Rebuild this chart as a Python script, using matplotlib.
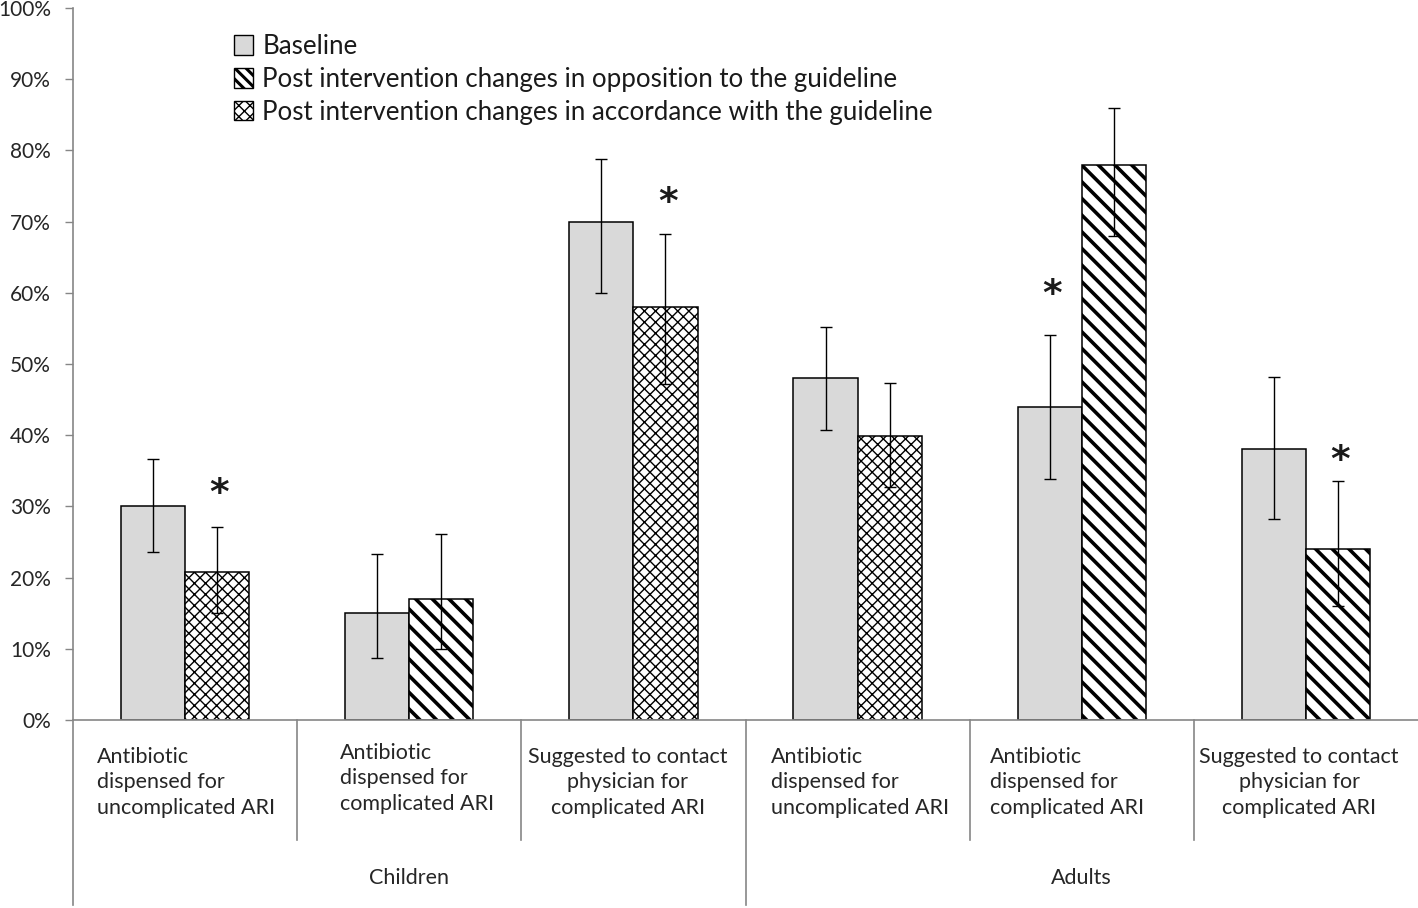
import matplotlib.pyplot as plt
import matplotlib.transforms as mtransforms
from matplotlib.patches import Patch

plt.rcParams['font.family'] = ['Lato', 'DejaVu Sans']

# data (percent)
groups = ['Children', 'Adults']
cat_labels = [
    'Antibiotic\ndispensed for\nuncomplicated ARI',
    'Antibiotic\ndispensed for\ncomplicated ARI',
    'Suggested to contact\nphysician for\ncomplicated ARI',
    'Antibiotic\ndispensed for\nuncomplicated ARI',
    'Antibiotic\ndispensed for\ncomplicated ARI',
    'Suggested to contact\nphysician for\ncomplicated ARI',
]
baseline = [30, 15, 70, 48, 44, 38]
base_lo = [6.4, 6.3, 10.0, 7.3, 10.1, 9.7]
base_hi = [6.7, 8.3, 8.8, 7.2, 10.1, 10.2]
post = [20.8, 17, 58, 39.9, 78, 24]
post_lo = [5.8, 7.0, 10.8, 7.2, 10.0, 8.0]
post_hi = [6.3, 9.1, 10.3, 7.4, 8.0, 9.6]
# 'acc' = change in accordance with guideline, 'opp' = in opposition
post_kind = ['acc', 'opp', 'acc', 'acc', 'opp', 'opp']
# significance stars: (category index, series 0=baseline 1=post, height)
stars = [(0, 1, 31.7), (2, 1, 72.6), (4, 0, 59.7), (5, 1, 36.4)]

W, H = 1418, 908
fig = plt.figure(figsize=(W / 100, H / 100), dpi=100)
ax = fig.add_axes([73 / W, (H - 720) / H, 1345 / W, 712 / H])

grey = '#868686'
bw = 0.286
x = list(range(len(baseline)))
xb = [i - bw / 2 for i in x]
xp = [i + bw / 2 for i in x]

hatch_of = {'acc': 'xxx', 'opp': '\\\\'}
hatch_lw = {'acc': 1.0, 'opp': 2.6}

def set_hlw(p, w):
    if hasattr(p, 'set_hatch_linewidth'):
        p.set_hatch_linewidth(w)

ax.bar(xb, baseline, width=bw, color='#d9d9d9', edgecolor='black', linewidth=1.1, zorder=2)
for i in x:
    b = ax.bar(xp[i], post[i], width=bw, color='white', edgecolor='black',
               linewidth=1.1, hatch=hatch_of[post_kind[i]], zorder=2)
    for p in b:
        set_hlw(p, hatch_lw[post_kind[i]])

ax.errorbar(xb, baseline, yerr=[base_lo, base_hi], fmt='none', ecolor='black',
            elinewidth=1.0, capsize=4, capthick=1.0, zorder=3)
ax.errorbar(xp, post, yerr=[post_lo, post_hi], fmt='none', ecolor='black',
            elinewidth=1.0, capsize=4, capthick=1.0, zorder=3)

for ci, s, h in stars:
    xs = xb[ci] if s == 0 else xp[ci]
    ax.text(xs + 0.01, h, '*', ha='center', va='center', fontsize=27,
            fontweight='bold', color='#1a1a1a', family='DejaVu Sans')

ax.set_xlim(-0.5, len(baseline) - 0.5)
ax.set_ylim(0, 100)
ax.set_yticks(range(0, 101, 10))
ax.set_yticklabels([f'{v}%' for v in range(0, 101, 10)])
ax.tick_params(axis='y', length=6, width=1, color=grey, pad=10,
               labelsize=15, labelcolor='#262626')
ax.set_xticks([])
for side in ['top', 'right']:
    ax.spines[side].set_visible(False)
ax.spines['left'].set_color(grey)
ax.spines['bottom'].set_color(grey)
ax.spines['left'].set_linewidth(1.2)
ax.spines['bottom'].set_linewidth(1.2)

# category table below the axis
trans = mtransforms.blended_transform_factory(ax.transData, ax.transAxes)
def ay(py):
    return (720 - py) / 712

for b in [0.5, 1.5, 3.5, 4.5]:
    ax.plot([b, b], [0, ay(840)], color=grey, lw=1.2, transform=trans, clip_on=False)
for b in [-0.5, 2.5]:
    ax.plot([b, b], [0, ay(905)], color=grey, lw=1.2, transform=trans, clip_on=False)

cat_ha = ['left', 'left', 'center', 'left', 'left', 'center']
cat_dx = [-0.393, -0.31, -0.025, -0.388, -0.41, -0.03]
cat_top = [747, 743, 747, 747, 747, 747]
for i, lab in enumerate(cat_labels):
    ax.text(i + cat_dx[i], ay(cat_top[i]), lab, transform=trans, ha=cat_ha[i],
            va='top', fontsize=15.5, linespacing=1.34, color='#262626', multialignment=cat_ha[i])
for g, name in enumerate(groups):
    ax.text(3 * g + 1, ay(878), name, transform=trans, ha='center', va='center',
            fontsize=15.5, color='#262626')

handles = [
    Patch(facecolor='#d9d9d9', edgecolor='black', linewidth=1.0),
    Patch(facecolor='white', edgecolor='black', linewidth=1.0, hatch='\\\\\\'),
    Patch(facecolor='white', edgecolor='black', linewidth=1.0, hatch='xxx'),
]
set_hlw(handles[1], 2.2)
leg_labels = ['Baseline',
              'Post intervention changes in opposition to the guideline',
              'Post intervention changes in accordance with the guideline']
leg = ax.legend(handles, leg_labels, loc='upper left',
                bbox_to_anchor=((234 - 73) / 1345, 1 - 26 / 712),
                frameon=False, fontsize=18.6, handlelength=0.75, handleheight=0.8,
                handletextpad=0.35, labelspacing=0.3, borderpad=0, borderaxespad=0,
                labelcolor='#1a1a1a')
for p in leg.get_patches():
    if p.get_hatch() == '\\\\\\':
        set_hlw(p, 2.2)

fig.savefig('out.png', dpi=100)
